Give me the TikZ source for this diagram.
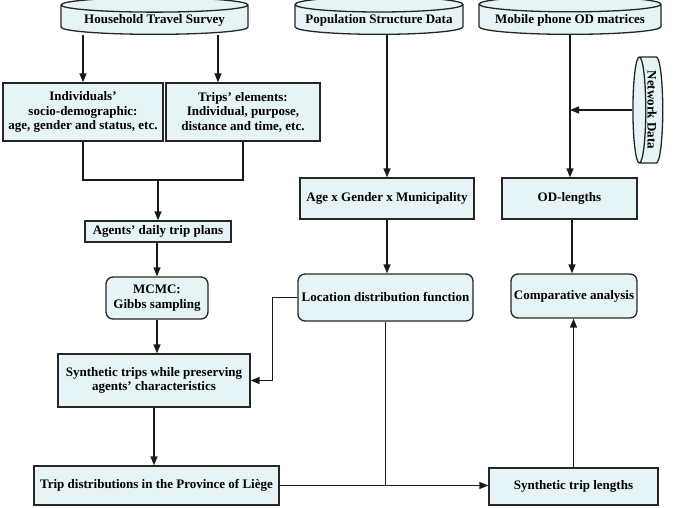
\documentclass[tikz,border=0pt]{standalone}
\usepackage{fontspec}
\setmainfont{Liberation Serif}
\usetikzlibrary{shapes.geometric,arrows.meta}
\definecolor{boxfill}{RGB}{230,244,246}
\begin{document}
\begin{tikzpicture}[x=1pt, y=-1pt,
		font=\fontsize{13}{14.5}\selectfont\bfseries,
		box/.style={draw=black!85, line width=1.3pt, fill=boxfill, align=center, inner sep=2pt},
		roundbox/.style={box, rounded corners=7pt},
		datastore/.style={box, cylinder, shape border rotate=90, aspect=0.1, anchor=south},
		arr/.style={line width=1.4pt, draw=black!90, -{Triangle[length=9pt,width=7pt]}},
		link/.style={line width=1.4pt, draw=black!90}]
		\useasboundingbox (0,0) rectangle (678,508);
		% Datenquellen
		\node[datastore, minimum width=187, minimum height=30] (hts) at (154.5,35) {Household Travel Survey};
		\node[datastore, minimum width=168, minimum height=28] (psd) at (379,35) {Population Structure Data};
		\node[datastore, minimum width=182, minimum height=30] (mob) at (570,35) {Mobile phone OD matrices};
		\node[box, cylinder, shape border rotate=180, aspect=0.16, inner sep=1pt,
			minimum width=106, minimum height=18] (net) at (652,110) {\rotatebox{-90}{Network Data}};
		% Linke Spalte
		\node[box, minimum width=160, minimum height=58] (ind) at (83,112) {Individuals’\\socio-demographic:\\age, gender and status, etc.};
		\node[box, minimum width=154, minimum height=58] (trp) at (243,112) {Trips’ elements:\\Individual, purpose,\\distance and time, etc.};
		\node[box, minimum width=146, minimum height=21] (agt) at (158,231.5) {Agents’ daily trip plans};
		\node[roundbox, minimum width=102, minimum height=42] (mcmc) at (157,298) {MCMC:\\Gibbs sampling};
		\node[box, minimum width=192, minimum height=53] (syn) at (154,380.5) {Synthetic trips while preserving\\agents’ characteristics};
		\node[box, minimum width=245, minimum height=39] (tdp) at (156.5,485.5) {Trip distributions in the Province of Liège};
		% Mittlere Spalte
		\node[box, minimum width=174, minimum height=41] (age) at (387,198.5) {Age x Gender x Municipality};
		\node[roundbox, minimum width=175, minimum height=47] (loc) at (385.5,297.5) {Location distribution function};
		% Rechte Spalte
		\node[box, minimum width=135, minimum height=41] (odl) at (569.5,198.5) {OD-lengths};
		\node[roundbox, minimum width=126, minimum height=44] (cmp) at (574,296) {Comparative analysis};
		\node[box, minimum width=169, minimum height=37] (stl) at (573.5,486.5) {Synthetic trip lengths};
		% Linien
		\draw[arr] (hts.south -| ind.north) -- (ind.north);
		\draw[arr] ([xshift=-25pt]hts.south -| trp.north) -- ([xshift=-25pt]trp.north);
		\coordinate (jn) at (158,180);
		\draw[link] (ind.south) |- (jn) -| (trp.south);
		\draw[arr] (jn) -- (agt.north);
		\draw[arr] (agt.south -| mcmc.north) -- (mcmc.north);
		\draw[arr] (mcmc.south) -- (mcmc.south |- syn.north);
		\draw[arr] (syn.south) -- (syn.south |- tdp.north);
		\draw[arr] (psd.south -| age.north) -- (age.north);
		\draw[arr] (age.south) -- (age.south |- loc.north);
		\draw[arr] (loc.west) -- ++(-25,0) |- (syn.east);
		\coordinate (mrg) at (loc.south |- tdp.east);
		\draw[link] (loc.south) -- (mrg);
		\draw[arr] (tdp.east) -- (mrg) -- (mrg -| stl.west);
		\draw[arr] (mob.south) -- (mob.south |- odl.north);
		\draw[arr] (net.west) -- (net.west -| mob.south);
		\draw[arr] ([xshift=2.5pt]odl.south) -- ([xshift=2.5pt]odl.south |- cmp.north);
		\draw[arr] (stl.north) -- (stl.north |- cmp.south);
	\end{tikzpicture}
\end{document}
